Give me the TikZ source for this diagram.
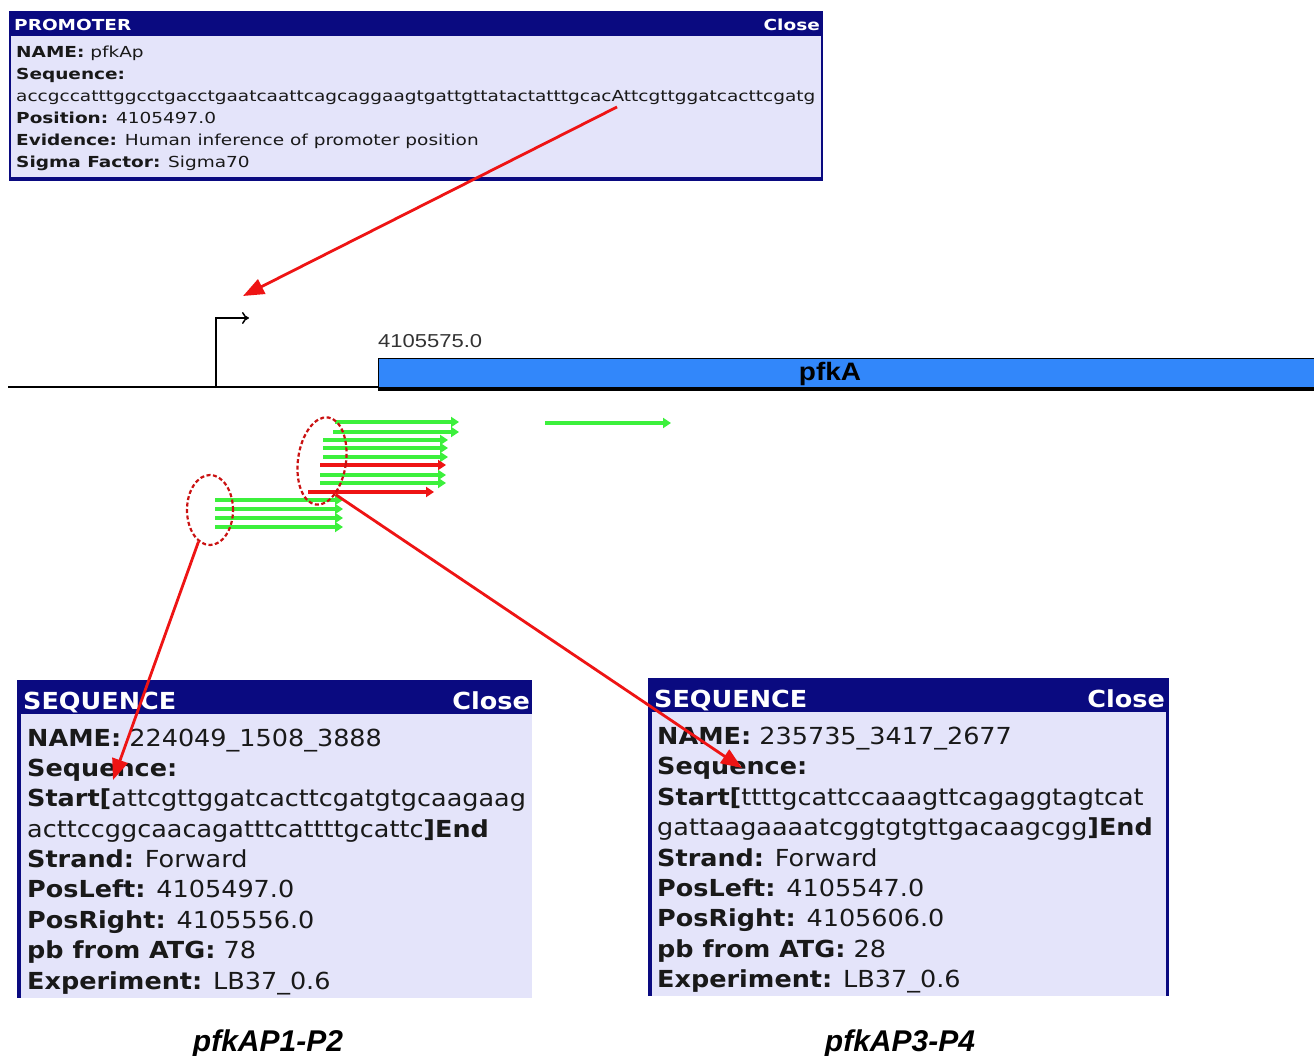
\documentclass[tikz,border=0pt]{standalone}
\usepackage{fontspec}
\usepackage{graphicx}
\usetikzlibrary{arrows.meta,shapes.geometric}
\setmainfont{Liberation Sans}
\newfontfamily\vf{DejaVu Sans}
\definecolor{navy}{RGB}{10,10,128}
\definecolor{lav}{RGB}{228,228,250}
\definecolor{geneblue}{RGB}{50,135,250}
\definecolor{grn}{RGB}{60,240,60}
\definecolor{rd}{RGB}{238,20,20}
\definecolor{txt}{RGB}{25,25,25}
\newcommand\toptxt[1]{\scalebox{1}[0.82]{\fontsize{18.5}{20}\selectfont\vf #1}}
\newcommand\bottxt[1]{\scalebox{1}[0.92]{\fontsize{25.5}{28}\selectfont\vf #1}}
\begin{document}
\begin{tikzpicture}[x=1pt,y=-1pt,
  tl/.style={anchor=base west,inner sep=0pt,text=txt},
  tr/.style={anchor=base east,inner sep=0pt,text=white},
  hdr/.style={anchor=base west,inner sep=0pt,text=white},
  garrow/.style={draw=grn,line width=4pt,-{Triangle[length=8pt,width=10pt]}},
  rarrow/.style={draw=rd,line width=4pt,-{Triangle[length=8pt,width=10pt]}},
  link/.style={draw=rd,line width=2.8pt,-{Triangle[length=21pt,width=16pt]}},
  oval/.style={ellipse,draw=rd!85!black,dashed,dash pattern=on 4pt off 2.5pt,line width=2.2pt,inner sep=0pt}]
\useasboundingbox (0,0) rectangle (1314,1056);
\fill[white] (0,0) rectangle (1314,1056);
% ---- top promoter box
\fill[lav] (10,12) rectangle (822,180);
\fill[navy] (10,12) rectangle (822,36);
\draw[navy,line width=1.5pt] (10,12) rectangle (822,180);
\draw[navy,line width=3pt] (10,179) -- (822,179);
\node[hdr] (ph) at (14,31) {\toptxt{\textbf{PROMOTER}}};
\node[tr] (pc) at (820,31) {\toptxt{\textbf{Close}}};
\node[tl] (p1) at (16,58) {\toptxt{\textbf{NAME:} pfkAp}};
\node[tl] (p2) at (16,80) {\toptxt{\textbf{Sequence:}}};
\node[tl] (p3) at (16,102) {\toptxt{accgccatttggcctgacctgaatcaattcagcaggaagtgattgttatactatttgcacAttcgttggatcacttcgatg}};
\node[tl] (p4) at (16,124) {\toptxt{\textbf{Position:} 4105497.0}};
\node[tl] (p5) at (16,146) {\toptxt{\textbf{Evidence:} Human inference of promoter position}};
\node[tl] (p6) at (16,168) {\toptxt{\textbf{Sigma Factor:} Sigma70}};
% ---- genome line
\draw[line width=2.5pt] (8,387) -- (380,387);
\node[draw=black,fill=geneblue,line width=1.2pt,minimum width=940pt,minimum height=32pt,anchor=north west,inner sep=0pt] (gene) at (378,358) {};
\draw[line width=3.5pt] (378,389) -- (1314,389);
\node[anchor=base,inner sep=0pt] (gname) at (830,381) {\scalebox{1}[0.9]{\fontsize{28}{30}\selectfont\bfseries pfkA}};
\node[anchor=base west,inner sep=0pt,text=black!80] (gpos) at (378,348) {\scalebox{1}[0.85]{\fontsize{22}{24}\selectfont 4105575.0}};
\coordinate (tss) at (216,388);
\coordinate (tssTop) at (216,318);
\coordinate (tssEnd) at (249,318);
\draw[line width=1.5pt,-{To[length=7pt,width=12pt]}] (tss) -- (tssTop) -- (tssEnd);
% ---- reads
\coordinate (g1s) at (335,422); \coordinate (g1e) at (459,422);
\coordinate (g2s) at (333,432); \coordinate (g2e) at (459,432);
\coordinate (g3s) at (323,440); \coordinate (g3e) at (448,440);
\coordinate (g4s) at (323,448); \coordinate (g4e) at (448,448);
\coordinate (g5s) at (323,457); \coordinate (g5e) at (448,457);
\coordinate (r1s) at (320,465); \coordinate (r1e) at (446,465);
\coordinate (g6s) at (320,475); \coordinate (g6e) at (446,475);
\coordinate (g7s) at (320,483); \coordinate (g7e) at (446,483);
\coordinate (r2s) at (308,492); \coordinate (r2e) at (434,492);
\draw[garrow] (g1s) -- (g1e);
\draw[garrow] (g2s) -- (g2e);
\draw[garrow] (g3s) -- (g3e);
\draw[garrow] (g4s) -- (g4e);
\draw[garrow] (g5s) -- (g5e);
\draw[rarrow] (r1s) -- (r1e);
\draw[garrow] (g6s) -- (g6e);
\draw[garrow] (g7s) -- (g7e);
\draw[rarrow] (r2s) -- (r2e);
\coordinate (h1s) at (215,500); \coordinate (h1e) at (343,500);
\coordinate (h2s) at (215,509); \coordinate (h2e) at (343,509);
\coordinate (h3s) at (215,518); \coordinate (h3e) at (343,518);
\coordinate (h4s) at (215,527); \coordinate (h4e) at (343,527);
\draw[garrow] (h1s) -- (h1e);
\draw[garrow] (h2s) -- (h2e);
\draw[garrow] (h3s) -- (h3e);
\draw[garrow] (h4s) -- (h4e);
\coordinate (fs) at (545,423); \coordinate (fe) at (671,423);
\draw[garrow] (fs) -- (fe);
% ---- ovals
\node[oval,minimum width=46pt,minimum height=70pt] (e1) at (210,510) {};
\node[oval,minimum width=48pt,minimum height=88pt,rotate=-8] (e2) at (322,461) {};
% ---- bottom left box
\fill[lav] (17,680) rectangle (532,998);
\fill[navy] (17,680) rectangle (532,714);
\draw[navy,line width=4pt] (19,680) -- (19,998);
\node[hdr] (lh) at (23,709) {\bottxt{\textbf{SEQUENCE}}};
\node[tr] (lc) at (530,709) {\bottxt{\textbf{Close}}};
\node[tl] (l1) at (27,746) {\bottxt{\textbf{NAME:} 224049\_1508\_3888}};
\node[tl] (l2) at (27,776) {\bottxt{\textbf{Sequence:}}};
\node[tl] (l3) at (27,806) {\bottxt{\textbf{Start[}attcgttggatcacttcgatgtgcaagaag}};
\node[tl] (l4) at (27,837) {\bottxt{acttccggcaacagatttcattttgcattc\textbf{]End}}};
\node[tl] (l5) at (27,867) {\bottxt{\textbf{Strand:} Forward}};
\node[tl] (l6) at (27,897) {\bottxt{\textbf{PosLeft:} 4105497.0}};
\node[tl] (l7) at (27,928) {\bottxt{\textbf{PosRight:} 4105556.0}};
\node[tl] (l8) at (27,958) {\bottxt{\textbf{pb from ATG:} 78}};
\node[tl] (l9) at (27,989) {\bottxt{\textbf{Experiment:} LB37\_0.6}};
% ---- bottom right box
\fill[lav] (648,678) rectangle (1169,996);
\fill[navy] (648,678) rectangle (1169,712);
\draw[navy,line width=4pt] (650,678) -- (650,996);
\draw[navy,line width=3pt] (1167,678) -- (1167,996);
\node[hdr] (rh) at (654,707) {\bottxt{\textbf{SEQUENCE}}};
\node[tr] (rc) at (1165,707) {\bottxt{\textbf{Close}}};
\node[tl] (m1) at (657,744) {\bottxt{\textbf{NAME:} 235735\_3417\_2677}};
\node[tl] (m2) at (657,774) {\bottxt{\textbf{Sequence:}}};
\node[tl] (m3) at (657,805) {\bottxt{\textbf{Start[}ttttgcattccaaagttcagaggtagtcat}};
\node[tl] (m4) at (657,835) {\bottxt{gattaagaaaatcggtgtgttgacaagcgg\textbf{]End}}};
\node[tl] (m5) at (657,866) {\bottxt{\textbf{Strand:} Forward}};
\node[tl] (m6) at (657,896) {\bottxt{\textbf{PosLeft:} 4105547.0}};
\node[tl] (m7) at (657,926) {\bottxt{\textbf{PosRight:} 4105606.0}};
\node[tl] (m8) at (657,957) {\bottxt{\textbf{pb from ATG:} 28}};
\node[tl] (m9) at (657,987) {\bottxt{\textbf{Experiment:} LB37\_0.6}};
% ---- captions
\node[anchor=base,inner sep=0pt] (cap1) at (268,1051) {\fontsize{30}{32}\selectfont\bfseries\itshape pfkAP1-P2};
\node[anchor=base,inner sep=0pt] (cap2) at (900,1051) {\fontsize{30}{32}\selectfont\bfseries\itshape pfkAP3-P4};
% ---- red links
\coordinate (seqA) at (617,107);
\coordinate (promT) at (243,296);
\coordinate (t1) at (113,780);
\coordinate (t2) at (742,768);
\draw[link] (seqA) -- (promT);
\draw[link] (e1.250) -- (t1);
\draw[link] (e2.300) -- (t2);
\end{tikzpicture}
\end{document}
